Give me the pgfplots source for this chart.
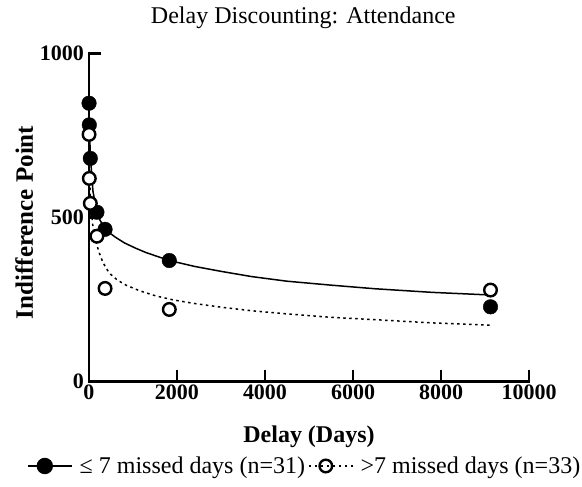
\documentclass[border=0pt]{standalone}
\usepackage{fontspec}
\setmainfont{Liberation Serif}
\usepackage{pgfplots}
\pgfplotsset{compat=1.18}

\begin{document}
\begin{tikzpicture}
\path[use as bounding box] (0,0) rectangle (582pt,487pt);
\begin{axis}[
  at={(89pt,105.3pt)}, anchor=south west,
  scale only axis, width=440pt, height=328.4pt,
  xmin=0, xmax=10000, ymin=0, ymax=1000,
  clip=false,
  axis x line*=bottom, axis y line*=left,
  axis line style={line width=2.5pt, line cap=rect},
  xtick={0,2000,4000,6000,8000,10000},
  ytick={0,500,1000},
  scaled x ticks=false, scaled y ticks=false,
  tick align=inside,
  major tick length=12pt,
  tick style={black, line width=2.5pt},
  /pgf/number format/assume math mode=true,
  /pgf/number format/1000 sep={},
  ticklabel style={font=\fontsize{22}{22}\selectfont\bfseries},
  xticklabel style={inner sep=0pt, anchor=north, yshift=-3pt},
  yticklabel style={inner sep=0pt, anchor=east, xshift=-5pt},
  title={Delay Discounting: Attendance},
  title style={font=\fontsize{24}{24}\selectfont, at={(axis description cs:0.487,1.071)}, anchor=base},
  xlabel={Delay (Days)},
  xlabel style={font=\fontsize{24}{24}\selectfont\bfseries, at={(axis description cs:0.5,-0.1858)}, anchor=base},
  ylabel={Indifference Point},
  ylabel style={font=\fontsize{25}{25}\selectfont\bfseries, at={(axis description cs:-0.1273,0.485)}, anchor=base},
  legend columns=2,
  legend cell align=left,
  legend style={draw=none, fill=none, at={(axis description cs:0.49,-0.2567)}, anchor=center,
    font=\fontsize{24}{24}\selectfont,
    /tikz/every even column/.append style={column sep=1pt}},
  legend image code/.code={
    \draw[mark repeat=2,mark phase=2,#1] plot coordinates {(0pt,0pt) (17pt,0pt) (34pt,0pt)};
    \path (0pt,0pt) -- (44pt,0pt);
  },
]

% fitted discounting curve, <= 7 missed days
\addplot[black, line width=1.5pt, forget plot] coordinates {
  (1,850) (7,785) (30,690) (90,580) (180,515) (250,492) (365,465) (450,455)
  (600,440) (800,423) (1068,406) (1300,393) (1825,369) (2400,351) (3000,336)
  (3700,320) (4500,306) (5500,294) (6500,283) (7800,272) (9125,264)
};
% fitted discounting curve, > 7 missed days
\addplot[black, line width=1.5pt, dash pattern=on 2.5pt off 3.5pt, forget plot] coordinates {
  (1,755) (7,690) (30,560) (90,470) (180,415) (240,390) (311,365) (400,343)
  (500,326) (650,309) (841,294) (1150,277) (1523,261) (1916,249) (2400,238)
  (3053,226) (3700,216) (4450,207) (5500,196) (6614,188) (7800,179) (9125,172)
};

% group medians, <= 7 missed days
\addplot[only marks, mark=*, mark size=7.3pt, mark options={fill=black, draw=black}, forget plot] coordinates {
  (1,848) (7,782) (30,680) (180,516) (365,464) (1825,369) (9125,228)
};
% group medians, > 7 missed days
\addplot[only marks, mark=*, mark size=6.3pt, mark options={fill=white, draw=black, line width=2.4pt}, forget plot] coordinates {
  (1,753) (7,619) (30,543) (180,443) (365,284) (1825,220) (9125,279)
};

\addlegendimage{black, line width=1.8pt, mark=*, mark size=7.3pt, mark options={fill=black}}
\addlegendentry{\hspace{5pt}≤ 7 missed days (n=31)}
\addlegendimage{black, line width=1.5pt, dash pattern=on 2.5pt off 3.5pt, mark=*, mark size=6.3pt, mark options={solid, fill=white, draw=black, line width=2.4pt}}
\addlegendentry{\hspace{5pt}>7 missed days (n=33)}
\end{axis}
\end{tikzpicture}
\end{document}
